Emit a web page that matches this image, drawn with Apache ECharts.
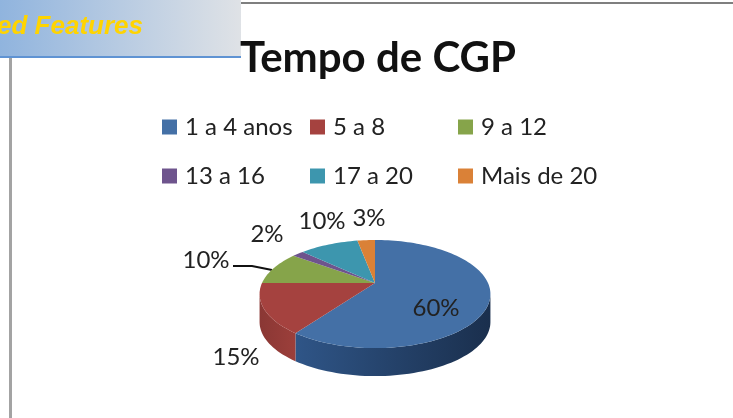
<!DOCTYPE html>
<html>
<head>
<meta charset="utf-8">
<style>
  html, body { margin: 0; padding: 0; background: #fff; }
  #chart { width: 733px; height: 418px; }
</style>
</head>
<body>
<div id="chart"></div>
<script src="https://cdn.jsdelivr.net/npm/echarts@6/dist/echarts.min.js"></script>
<script>
const categories = ['1 a 4 anos', '5 a 8', '9 a 12', '13 a 16', '17 a 20', 'Mais de 20']
const values = [60, 15, 10, 2, 10, 3]
const colors = ['#4470a6', '#a5423f', '#86a44a', '#6e548d', '#3d96ae', '#da8137']
const titleText = 'Tempo de CGP'
const bannerText = 'ed Features'

// pie geometry, a tilted disc seen in perspective
const pie = { cx: 375, cy: 283, r: 113, ry: 51.8, p: 0.204, depth: 28 }
const wallFrom = 102
const wallTo = 258
const wallColors = [['#2f5587', '#1a2f4d'], ['#8a3734', '#9c3f3b']]
const labelPos = [[436, 308], [236, 357], [206, 260], [267, 234], [322, 221], [369, 218]]
const legendPos = [[162, 115], [310, 115], [458, 115], [162, 164], [310, 164], [458, 164]]

function project(deg, dy) {
  const t = deg * Math.PI / 180
  const X = Math.sin(t)
  const Y = -Math.cos(t)
  const s = 1 / (1 - pie.p * Y)
  return [pie.cx + pie.r * X * s, pie.cy + pie.ry * Y * s + (dy || 0)]
}

function arc(from, to, dy) {
  const pts = []
  const n = Math.max(2, Math.ceil((to - from) / 2))
  for (let i = 0; i <= n; i++) {
    pts.push(project(from + (to - from) * i / n, dy))
  }
  return pts
}

function renderSlice(index) {
  return function (params, api) {
    const total = values.reduce((a, b) => a + b, 0)
    const before = values.slice(0, index).reduce((a, b) => a + b, 0)
    const start = before / total * 360
    const end = start + api.value(0) / total * 360
    const children = []
    const a = Math.max(start, wallFrom)
    const b = Math.min(end, wallTo)
    if (a < b) {
      const top = arc(a, b, 0)
      const bottom = arc(a, b, pie.depth).reverse()
      children.push({
        type: 'polygon',
        shape: { points: top.concat(bottom) },
        style: {
          fill: new echarts.graphic.LinearGradient(0, 0, 1, 0, [
            { offset: 0, color: wallColors[index][0] },
            { offset: 1, color: wallColors[index][1] }
          ])
        }
      })
    }
    children.push({
      type: 'polygon',
      shape: { points: [[pie.cx, pie.cy]].concat(arc(start, end, 0)) },
      style: { fill: colors[index] }
    })
    children.push({
      type: 'text',
      x: labelPos[index][0],
      y: labelPos[index][1],
      style: {
        text: api.value(0) + '%',
        font: '24px Lato',
        fill: '#222',
        align: 'center',
        verticalAlign: 'middle'
      }
    })
    return { type: 'group', children: children }
  }
}

const chart = echarts.init(document.getElementById('chart'))
chart.setOption({
  animation: false,
  backgroundColor: '#fff',
  title: {
    text: titleText,
    left: 235,
    top: 32,
    textStyle: { fontFamily: 'Lato', fontSize: 42, fontWeight: 'bold', color: '#111' }
  },
  legend: categories.map((name, i) => ({
    data: [name],
    left: legendPos[i][0],
    top: legendPos[i][1],
    icon: 'rect',
    itemWidth: 15,
    itemHeight: 15,
    itemGap: 0,
    padding: 0,
    selectedMode: false,
    textStyle: { fontFamily: 'Lato', fontSize: 24, color: '#222', padding: [0, 0, 0, 3] }
  })),
  series: categories.map((name, i) => ({
    type: 'custom',
    name: name,
    coordinateSystem: 'none',
    silent: true,
    itemStyle: { color: colors[i] },
    data: [[values[i]]],
    renderItem: renderSlice(i)
  })),
  graphic: [
    { type: 'rect', shape: { x: 241, y: 2, width: 492, height: 2 }, style: { fill: '#7f7f7f' } },
    { type: 'rect', shape: { x: 9, y: 58, width: 3, height: 360 }, style: { fill: '#a3a3a3' } },
    {
      type: 'rect',
      shape: { x: 0, y: 0, width: 241, height: 57 },
      style: {
        fill: new echarts.graphic.LinearGradient(0, 0, 1, 0, [
          { offset: 0, color: '#90b4de' },
          { offset: 1, color: '#dfe2e6' }
        ])
      }
    },
    { type: 'rect', shape: { x: 0, y: 56, width: 241, height: 2 }, style: { fill: '#5f93d3' } },
    {
      type: 'text',
      x: 143,
      y: 27,
      style: {
        text: bannerText,
        font: 'italic bold 26px "Liberation Sans"',
        fill: '#ffd400',
        align: 'right',
        verticalAlign: 'middle'
      }
    },
    {
      type: 'polyline',
      shape: { points: [[233, 266], [252, 266], [272, 270]] },
      style: { stroke: '#111', lineWidth: 2, fill: null }
    }
  ]
})
</script>
</body>
</html>
